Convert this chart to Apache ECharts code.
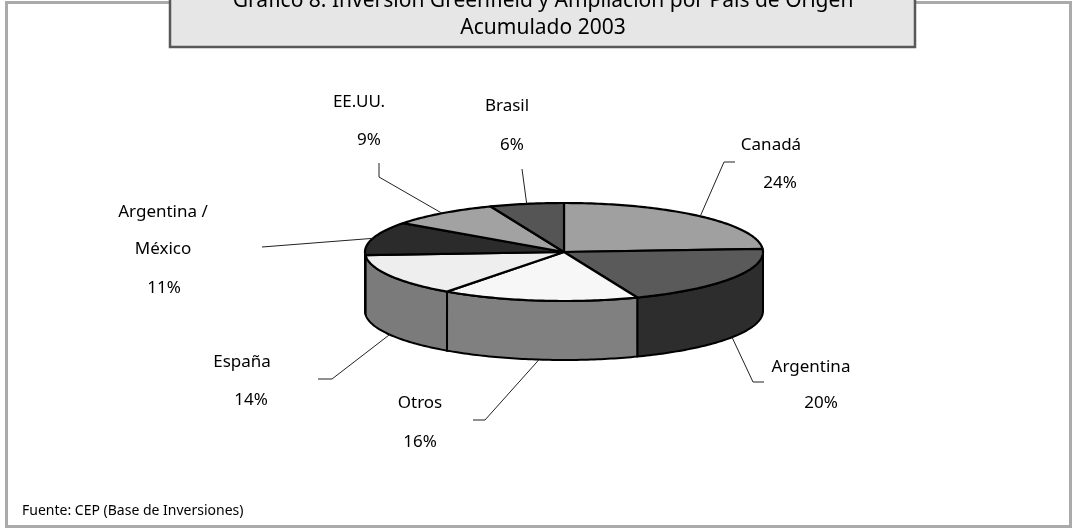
<!DOCTYPE html>
<html lang="es">
<head>
    <meta charset="UTF-8">
    <title>Gráfico 8</title>
    <script src="https://cdn.jsdelivr.net/npm/echarts@6.0.0/dist/echarts.min.js"></script>
    <style>
        html, body { margin: 0; padding: 0; background: #fff; }
        #main { width: 1073px; height: 529px; }
    </style>
</head>
<body>
    <div id="main"></div>
    <script type="text/javascript">
        // Data (% of the total)
        const categories = ['Canadá', 'Argentina', 'Otros', 'España', 'Argentina /\nMéxico', 'EE.UU.', 'Brasil'];
        const values = [24, 20, 16, 14, 11, 9, 6];

        // Grey shades of the top face and of the side wall
        const topColors = ['#a0a0a0', '#5a5a5a', '#f7f7f7', '#eeeeee', '#2b2b2b', '#a2a2a2', '#555555'];
        const sideColors = ['#505050', '#2d2d2d', '#808080', '#7b7b7b', '#161616', '#515151', '#2a2a2a'];

        // Where the leader lines bend and where the labels sit
        const labelLayout = [
            { elbow: [724, 162], end: [735, 162], name: [771, 145], pct: [780, 183] },
            { elbow: [753, 382], end: [764, 382], name: [811, 367], pct: [821, 403] },
            { elbow: [485, 420], end: [473, 420], name: [420, 403], pct: [420, 442] },
            { elbow: [332, 379], end: [318, 379], name: [242, 362], pct: [251, 400] },
            { elbow: [262, 247], end: [262, 247], name: [163, 231], pct: [164, 288] },
            { elbow: [379, 177], end: [379, 163], name: [359, 102], pct: [369, 140] },
            { elbow: [522, 169], end: [522, 169], name: [507, 106], pct: [512, 145] }
        ];

        // Flattened pie geometry
        const pie = { cx: 564, cy: 252, rx: 199, ry: 49, depth: 59 };
        const total = values.reduce((a, b) => a + b, 0);
        const starts = [];
        values.reduce((acc, v) => { starts.push(acc); return acc + v; }, 0);

        const font = '17px "Noto Sans"';

        // angle in degrees, clockwise from 12 o'clock
        function pt(deg, dy) {
            const r = deg * Math.PI / 180;
            return [pie.cx + pie.rx * Math.sin(r), pie.cy - pie.ry * Math.cos(r) + (dy || 0)];
        }
        function arc(a1, a2, dy) {
            const pts = [];
            const n = Math.max(2, Math.ceil(Math.abs(a2 - a1)));
            for (let i = 0; i <= n; i++) pts.push(pt(a1 + (a2 - a1) * i / n, dy));
            return pts;
        }

        function renderItem(params, api) {
            const i = params.dataIndex;
            const v = api.value(0);
            const a1 = starts[i] / total * 360;
            const a2 = (starts[i] + v) / total * 360;
            const children = [];

            // front wall
            const b1 = Math.max(a1, 90), b2 = Math.min(a2, 270);
            if (b2 > b1) {
                const pts = arc(b1, b2, 0).concat(arc(b2, b1, pie.depth));
                children.push({
                    type: 'polygon',
                    shape: { points: pts },
                    style: { fill: sideColors[i], stroke: '#000', lineWidth: 2, lineJoin: 'round' }
                });
            }
            // top face
            children.push({
                type: 'polygon',
                shape: { points: [[pie.cx, pie.cy]].concat(arc(a1, a2, 0)) },
                style: { fill: topColors[i], stroke: '#000', lineWidth: 2.2, lineJoin: 'round' }
            });

            // leader line from the slice edge
            const mid = (a1 + a2) / 2;
            const front = mid > 90 && mid < 270;
            const s = pt(mid, front ? pie.depth : 0);
            const lay = labelLayout[i];
            children.push({
                type: 'polyline',
                shape: { points: [s, lay.elbow, lay.end] },
                style: { stroke: '#222', lineWidth: 1, fill: null }
            });
            children.push({
                type: 'text',
                style: {
                    text: categories[i], x: lay.name[0], y: lay.name[1],
                    align: 'center', verticalAlign: 'middle', lineHeight: 37,
                    font: font, fill: '#000'
                }
            });
            children.push({
                type: 'text',
                style: {
                    text: Math.round(v / total * 100) + '%', x: lay.pct[0], y: lay.pct[1],
                    align: 'center', verticalAlign: 'middle',
                    font: font, fill: '#000'
                }
            });
            return { type: 'group', children: children };
        }

        const myChart = echarts.init(document.getElementById('main'));
        const options = {
            animation: false,
            backgroundColor: '#fff',
            graphic: [
                {
                    type: 'rect', z: 1,
                    shape: { x: 6.5, y: 2.5, width: 1064, height: 524 },
                    style: { fill: '#fff', stroke: '#aaaaaa', lineWidth: 3 }
                },
                {
                    type: 'rect', z: 2,
                    shape: { x: 170, y: -20, width: 745, height: 67 },
                    style: { fill: '#e6e6e6', stroke: '#585858', lineWidth: 2.5 }
                },
                {
                    type: 'text', z: 3,
                    style: {
                        text: 'Gráfico 8: Inversión Greenfield y Ampliación por País de Origen\nAcumulado 2003',
                        x: 543, y: 15, align: 'center', verticalAlign: 'middle',
                        lineHeight: 27, font: '21px "Noto Sans"', fill: '#000'
                    }
                },
                {
                    type: 'text', z: 3,
                    style: {
                        text: 'Fuente: CEP (Base de Inversiones)',
                        x: 22, y: 511, align: 'left', verticalAlign: 'middle',
                        font: '14px "Noto Sans"', fill: '#000'
                    }
                }
            ],
            series: [{
                type: 'custom',
                coordinateSystem: 'none',
                z: 5,
                silent: true,
                renderItem: renderItem,
                data: values.map((v, i) => ({ name: categories[i], value: [v] }))
            }]
        };
        myChart.setOption(options);
    </script>
</body>
</html>
